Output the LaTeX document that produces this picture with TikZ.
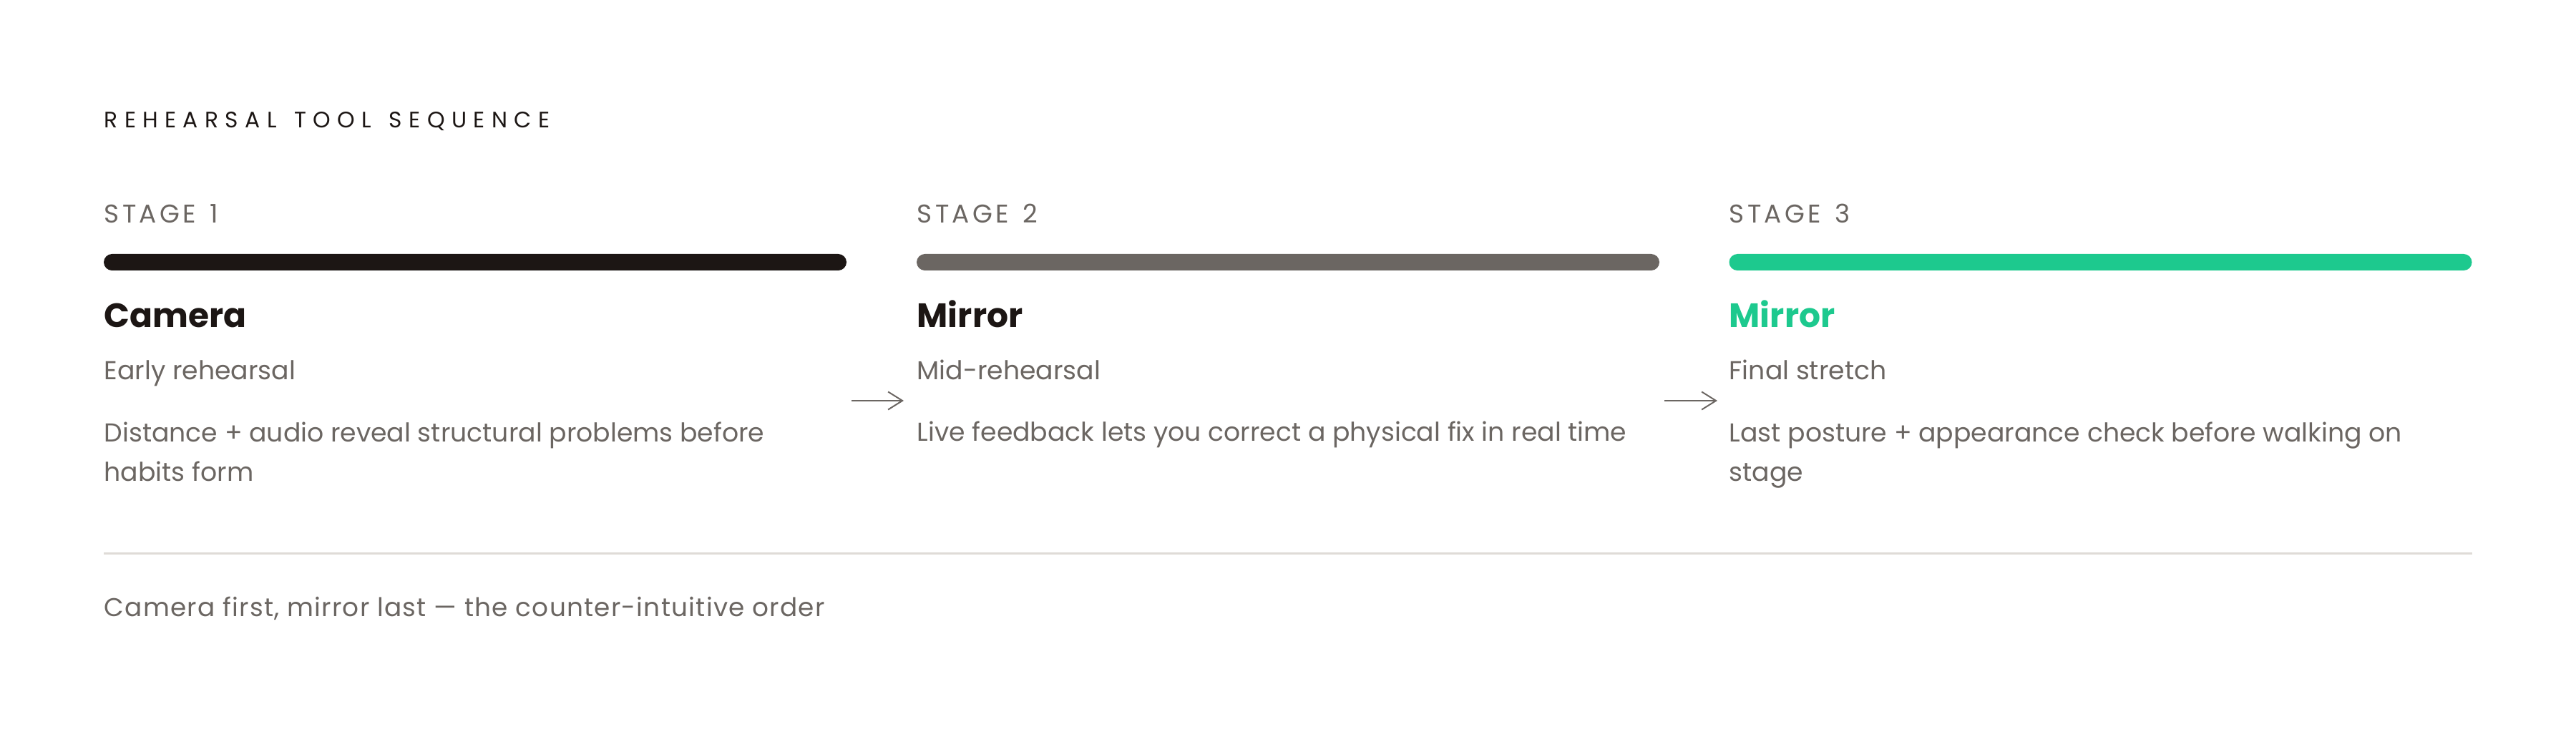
\documentclass[tikz,border=0pt]{standalone}
\usepackage{fontspec}
\setmainfont{Poppins}
\newfontfamily\capsfont[LetterSpace=30,WordSpace=1.4]{Poppins}
\newfontfamily\stagefont[LetterSpace=12,WordSpace=1.4]{Poppins}
\usepackage{tikz}
\usetikzlibrary{arrows.meta}
\definecolor{ink}{HTML}{1C1614}
\definecolor{stone}{HTML}{6B6662}
\definecolor{mint}{HTML}{1DC98E}
\definecolor{hair}{HTML}{DFDBD7}
\tikzset{txt/.style={anchor=base west, inner sep=0pt, align=left}}
\tikzset{caption/.style={txt, text=ink, font=\capsfont\fontsize{8.9}{10}\selectfont}}
\tikzset{stagelbl/.style={txt, text=stone, font=\stagefont\fontsize{10.2}{12}\selectfont}}
\tikzset{tool/.style={txt, text=#1, font=\fontsize{13.4}{16}\selectfont\bfseries}}
\tikzset{tool/.default=ink}
\tikzset{phase/.style={txt, text=stone, font=\fontsize{10.3}{15.93}\selectfont}}
\tikzset{bar/.style={rectangle, rounded corners=0.115cm, minimum width=10.38cm, minimum height=0.23cm, inner sep=0pt, fill=#1}}
\tikzset{flow/.style={-{Straight Barb[length=0.2cm,width=0.25cm]}, line width=0.02cm, stone}}
\tikzset{footnote/.style={txt, text=stone, font=\fontsize{10.2}{12}\selectfont\addfontfeature{LetterSpace=3.5}}}

\begin{document}
\begin{tikzpicture}
\useasboundingbox (0,0) rectangle (36,-10.23);
\node (title) at (1.45,-1.79)[caption]{REHEARSAL TOOL SEQUENCE};

%stage 1
\node (st1) at (1.45,-3.12)[stagelbl]{STAGE 1};
\node (bar1) at (6.64,-3.665)[bar=ink]{};
\node (tool1) at (1.45,-4.58)[tool]{Camera};
\node (when1) at (1.45,-5.31)[phase]{Early rehearsal};
% two lines: base sits on the last line
\node (why1) at (1.45,-6.73)[phase]{Distance + audio reveal structural problems before\\habits form};

%stage 2
\node (st2) at (12.81,-3.12)[stagelbl]{STAGE 2};
\node (bar2) at (18.00,-3.665)[bar=stone]{};
\node (tool2) at (12.81,-4.58)[tool]{Mirror};
\node (when2) at (12.81,-5.31)[phase]{Mid-rehearsal};
\node (why2) at (12.81,-6.17)[phase]{Live feedback lets you correct a physical fix in real time};

%stage 3
\node (st3) at (24.16,-3.12)[stagelbl]{STAGE 3};
\node (bar3) at (29.355,-3.665)[bar=mint]{};
\node (tool3) at (24.16,-4.58)[tool=mint]{Mirror};
\node (when3) at (24.16,-5.31)[phase]{Final stretch};
\node (why3) at (24.16,-6.73)[phase]{Last posture + appearance check before walking on\\stage};

\coordinate (s1) at (11.90,-5.60);
\coordinate (t1) at (12.63,-5.60);
\coordinate (s2) at (23.26,-5.60);
\coordinate (t2) at (24.00,-5.60);
\draw[flow] (s1)--(t1);
\draw[flow] (s2)--(t2);

\coordinate (ruleL) at (1.45,-7.74);
\coordinate (ruleR) at (34.55,-7.74);
\draw[hair, line width=0.03cm] (ruleL)--(ruleR);
\node (note) at (1.45,-8.62)[footnote]{Camera first, mirror last — the counter-intuitive order};
\end{tikzpicture}
\end{document}
